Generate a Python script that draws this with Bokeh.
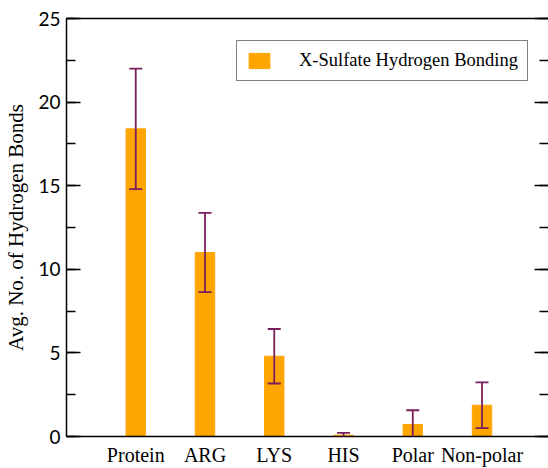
from bokeh.plotting import figure
from bokeh.models import (ColumnDataSource, Range1d, LinearAxis, FixedTicker,
                          SingleIntervalTicker, Whisker, TeeHead, Legend, LegendItem,
                          CustomJSTickFormatter)
from bokeh.embed import file_html
from bokeh.resources import INLINE

# Average number of X-sulfate hydrogen bonds per group, with standard deviations
categories = ["Protein", "ARG", "LYS", "HIS", "Polar", "Non-polar"]
avg_bonds = [18.4, 11.0, 4.8, 0.08, 0.72, 1.87]
std_bonds = [3.6, 2.37, 1.63, 0.14, 0.85, 1.37]

positions = list(range(1, len(categories) + 1))
source = ColumnDataSource(data=dict(
    x=positions,
    y=avg_bonds,
    upper=[m + s for m, s in zip(avg_bonds, std_bonds)],
    lower=[m - s for m, s in zip(avg_bonds, std_bonds)],
))

FONT = "Liberation Serif"
NUM_FONT = "Lato"
BAR_COLOR = "#FFA500"
ERR_COLOR = "#7a1f5c"

p = figure(width=548, height=468, output_backend="svg", toolbar_location=None,
           x_range=Range1d(0, 6.96), y_range=Range1d(0, 25),
           x_axis_type=None, y_axis_type=None,
           min_border_left=66, min_border_top=18, min_border_bottom=31,
           min_border_right=0)
p.outline_line_color = None
p.xgrid.visible = False
p.ygrid.visible = False
p.background_fill_color = "white"
p.border_fill_color = "white"

bars = p.vbar(x="x", top="y", width=0.28, source=source,
              fill_color=BAR_COLOR, line_color=BAR_COLOR)

err = Whisker(base="x", upper="upper", lower="lower", source=source,
              line_color=ERR_COLOR, line_width=1.8,
              upper_head=TeeHead(size=13, line_color=ERR_COLOR, line_width=1.8),
              lower_head=TeeHead(size=13, line_color=ERR_COLOR, line_width=1.8))
err.level = "overlay"
p.add_layout(err)

blank = CustomJSTickFormatter(code="return ''")

# Left axis with inward ticks
yaxis = LinearAxis(ticker=SingleIntervalTicker(interval=5, num_minor_ticks=2),
                   axis_label="Avg. No. of Hydrogen Bonds")
yaxis.axis_label_text_font = FONT
yaxis.axis_label_text_font_size = "21px"
yaxis.axis_label_text_font_style = "normal"
yaxis.axis_label_text_color = "black"
yaxis.axis_label_standoff = 7
yaxis.major_label_text_font = NUM_FONT
yaxis.major_label_text_font_size = "19px"
yaxis.major_label_text_color = "black"
yaxis.major_label_standoff = 6
yaxis.major_tick_in = 14
yaxis.major_tick_out = 0
yaxis.minor_tick_in = 9
yaxis.minor_tick_out = 0
yaxis.axis_line_width = 1.5
yaxis.major_tick_line_width = 1.5
yaxis.minor_tick_line_width = 1.5
p.add_layout(yaxis, "left")

# Right axis: mirrored ticks only
raxis = LinearAxis(ticker=SingleIntervalTicker(interval=5, num_minor_ticks=2),
                   formatter=blank)
raxis.major_label_standoff = 0
raxis.major_tick_in = 14
raxis.major_tick_out = 0
raxis.minor_tick_in = 9
raxis.minor_tick_out = 0
raxis.axis_line_color = None
raxis.major_tick_line_width = 1.5
raxis.minor_tick_line_width = 1.5
p.add_layout(raxis, "right")

# Bottom axis with category names
xaxis = LinearAxis(ticker=FixedTicker(ticks=positions),
                   major_label_overrides={pos: name for pos, name in zip(positions, categories)})
xaxis.major_label_text_font = FONT
xaxis.major_label_text_font_size = "20px"
xaxis.major_label_text_color = "black"
xaxis.major_label_standoff = 7
xaxis.major_tick_in = 0
xaxis.major_tick_out = 0
xaxis.minor_tick_in = 0
xaxis.minor_tick_out = 0
xaxis.axis_line_width = 1.5
p.add_layout(xaxis, "below")

# Top frame line
taxis = LinearAxis(ticker=FixedTicker(ticks=[]), formatter=blank)
taxis.major_label_standoff = 0
taxis.major_tick_in = 0
taxis.major_tick_out = 0
taxis.minor_tick_in = 0
taxis.minor_tick_out = 0
taxis.axis_line_width = 1.5
p.add_layout(taxis, "above")

legend = Legend(items=[LegendItem(label="X-Sulfate Hydrogen Bonding", renderers=[bars])],
                location=(170, 355))
legend.label_text_font = FONT
legend.label_text_font_size = "18.5px"
legend.label_text_color = "black"
legend.glyph_width = 26
legend.glyph_height = 19
legend.label_standoff = 27
legend.padding = 9
legend.margin = 0
legend.border_line_color = "black"
legend.border_line_width = 1.5
legend.background_fill_color = "white"
legend.background_fill_alpha = 1.0
p.add_layout(legend, "center")

open("out.html", "w").write(file_html(p, INLINE))
